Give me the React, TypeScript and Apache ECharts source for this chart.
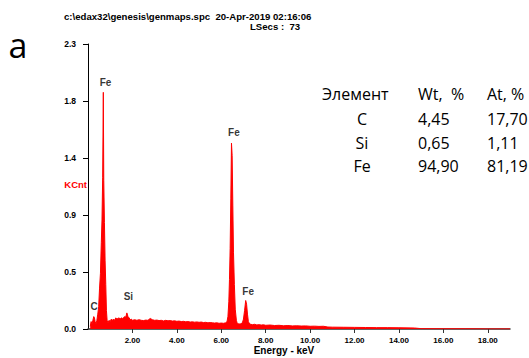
import React, { useEffect, useRef } from "react";
import * as echarts from "echarts";

const energies = [
  0.10, 0.14, 0.18, 0.22, 0.26, 0.29, 0.32, 0.36, 0.40, 0.44, 0.48, 0.52, 0.56, 0.60, 0.63, 0.66, 0.69, 0.71, 0.74, 0.77,
  0.80, 0.83, 0.86, 0.90, 0.95, 1.00, 1.05, 1.10, 1.15, 1.20, 1.25, 1.30, 1.35, 1.40, 1.45, 1.50, 1.55, 1.60, 1.65, 1.70,
  1.75, 1.80, 1.85, 1.90, 1.95, 2.00, 2.10, 2.20, 2.30, 2.40, 2.50, 2.60, 2.70, 2.80, 2.90, 3.00, 3.10, 3.20, 3.30, 3.40,
  3.50, 3.60, 3.70, 3.80, 3.90, 4.00, 4.10, 4.20, 4.30, 4.40, 4.50, 4.60, 4.70, 4.80, 4.90, 5.00, 5.10, 5.20, 5.30, 5.40,
  5.50, 5.60, 5.70, 5.80, 5.90, 6.00, 6.10, 6.20, 6.26, 6.30, 6.34, 6.37, 6.40, 6.43, 6.46, 6.49, 6.52, 6.55, 6.59, 6.63,
  6.68, 6.72, 6.80, 6.88, 6.95, 7.00, 7.05, 7.10, 7.14, 7.18, 7.22, 7.28, 7.40, 7.50, 7.60, 7.70, 7.80, 7.90, 8.00, 8.20,
  8.40, 8.60, 8.80, 9.00, 9.20, 9.40, 9.60, 9.80, 10.00, 10.20, 10.40, 10.60, 10.80, 11.00, 11.50, 12.00, 12.50, 13.00, 13.50, 14.00,
  14.50, 14.70, 15.00, 16.00, 17.00, 18.00, 19.00,
];
const counts = [
  0.02, 0.06, 0.04, 0.07, 0.10, 0.09, 0.06, 0.04, 0.07, 0.12, 0.18, 0.33, 0.45, 0.70, 0.88, 1.22, 1.91, 1.20, 0.86, 0.55,
  0.36, 0.15, 0.07, 0.05, 0.07, 0.06, 0.08, 0.07, 0.08, 0.07, 0.09, 0.08, 0.085, 0.09, 0.08, 0.09, 0.085, 0.09, 0.10, 0.095,
  0.13, 0.10, 0.09, 0.075, 0.08, 0.07, 0.075, 0.07, 0.075, 0.07, 0.068, 0.072, 0.07, 0.085, 0.075, 0.07, 0.072, 0.068, 0.07, 0.065,
  0.07, 0.066, 0.068, 0.064, 0.066, 0.062, 0.064, 0.06, 0.062, 0.058, 0.06, 0.056, 0.058, 0.055, 0.057, 0.054, 0.056, 0.052, 0.054, 0.05,
  0.052, 0.05, 0.048, 0.05, 0.046, 0.048, 0.046, 0.05, 0.06, 0.10, 0.22, 0.40, 0.65, 1.05, 1.50, 1.40, 1.00, 0.62, 0.36, 0.16,
  0.07, 0.045, 0.04, 0.042, 0.05, 0.08, 0.15, 0.23, 0.20, 0.12, 0.06, 0.04, 0.035, 0.038, 0.033, 0.035, 0.032, 0.034, 0.03, 0.032,
  0.028, 0.03, 0.026, 0.028, 0.025, 0.026, 0.024, 0.025, 0.022, 0.023, 0.021, 0.022, 0.016, 0.015, 0.014, 0.013, 0.012, 0.011, 0.011, 0.010,
  0.009, 0.008, 0.003, 0.002, 0.002, 0.001, 0.001,
];

const peakNames = ["C", "Fe", "Si", "Fe", "Fe"];
const peakLabelEnergies = [0.27, 0.79, 1.82, 6.57, 7.21];
const peakLabelCounts = [0.18, 1.99, 0.266, 1.585, 0.30];

const xTickValues = [2, 4, 6, 8, 10, 12, 14, 16, 18];
const xTickLabels = ["2.00", "4.00", "6.00", "8.00", "10.00", "12.00", "14.00", "16.00", "18.00"];
const yTickValues = [0, 0.46, 0.92, 1.38, 1.84, 2.3];
const yTickLabels = ["0.0", "0.5", "0.9", "1.4", "1.8", "2.3"];

const titleLine1 = "c:\\edax32\\genesis\\genmaps.spc  20-Apr-2019 02:16:06";
const titleLine2 = "LSecs :  73";
const xAxisTitle = "Energy - keV";
const yAxisTitle = "KCnt";
const panelLetter = "a";

const tableHeader = ["Элемент", "Wt,  %", "At, %"];
const tableElements = ["C", "Si", "Fe"];
const tableWt = ["4,45", "0,65", "94,90"];
const tableAt = ["17,70", "1,11", "81,19"];

const ARIAL = "'Liberation Sans', Arial, sans-serif";
const TABLE_FONT = "'Open Sans', sans-serif";

export default function App() {
  const ref = useRef<HTMLDivElement>(null);
  useEffect(() => {
    if (!ref.current) return;
    const chart = echarts.init(ref.current, null, { renderer: "svg" });
    const spectrum = energies.map((e, i) => [e, counts[i]]);
    const peakLabels = peakNames.map((n, i) => [peakLabelEnergies[i], peakLabelCounts[i], n]);

    const tf = `16px ${TABLE_FONT}`;
    const headerY = 94;
    const rowY = [119, 143, 166];
    const tableGraphics: any[] = [
      { type: "text", x: 322, y: headerY, style: { text: tableHeader[0], font: tf, fill: "#000", verticalAlign: "middle" } },
      { type: "text", x: 418, y: headerY, style: { text: tableHeader[1], font: tf, fill: "#000", verticalAlign: "middle" } },
      { type: "text", x: 487, y: headerY, style: { text: tableHeader[2], font: tf, fill: "#000", verticalAlign: "middle" } },
    ];
    tableElements.forEach((el, i) => {
      tableGraphics.push({
        type: "text", x: 362, y: rowY[i],
        style: { text: el, font: tf, fill: "#000", align: "center", verticalAlign: "middle" },
      });
      tableGraphics.push({
        type: "text", x: 418, y: rowY[i],
        style: { text: tableWt[i], font: tf, fill: "#000", align: "left", verticalAlign: "middle" },
      });
      tableGraphics.push({
        type: "text", x: 487, y: rowY[i],
        style: { text: tableAt[i], font: tf, fill: "#000", align: "left", verticalAlign: "middle" },
      });
    });

    chart.setOption({
      animation: false,
      backgroundColor: "#fff",
      grid: { left: 88, right: 19, top: 44, bottom: 29, containLabel: false },
      xAxis: {
        type: "value",
        min: 0,
        max: 19,
        axisLine: { show: true, lineStyle: { color: "#333", width: 1.5 } },
        axisTick: { show: true, customValues: xTickValues, length: 4, lineStyle: { color: "#333" } },
        axisLabel: {
          customValues: xTickValues,
          formatter: (v: number) => {
            const i = xTickValues.findIndex((t) => Math.abs(t - v) < 1e-6);
            return i >= 0 ? xTickLabels[i] : "";
          },
          fontFamily: ARIAL, fontWeight: "bold", fontSize: 8, color: "#000", margin: 7,
        },
        splitLine: { show: false },
      },
      yAxis: {
        type: "value",
        min: 0,
        max: 2.3,
        axisLine: { show: true, lineStyle: { color: "#000", width: 1 } },
        axisTick: { show: true, customValues: yTickValues, length: 5, lineStyle: { color: "#000" } },
        axisLabel: {
          customValues: yTickValues,
          formatter: (v: number) => {
            const i = yTickValues.findIndex((t) => Math.abs(t - v) < 1e-6);
            return i >= 0 ? yTickLabels[i] : "";
          },
          fontFamily: ARIAL, fontWeight: "bold", fontSize: 8.5, color: "#000", margin: 12,
        },
        splitLine: { show: false },
      },
      series: [
        {
          type: "line",
          data: spectrum,
          showSymbol: false,
          symbol: "none",
          lineStyle: { color: "#ff0000", width: 1 },
          areaStyle: { color: "#ff0000", opacity: 1 },
          z: 2,
        },
        {
          type: "scatter",
          data: peakLabels,
          symbolSize: 0,
          label: {
            show: true,
            position: "inside",
            formatter: (p: any) => p.data[2],
            fontFamily: ARIAL, fontWeight: "bold", fontSize: 10, color: "#000",
          },
          z: 3,
        },
      ],
      graphic: [
        { type: "text", x: 64, y: 16, style: { text: titleLine1, font: `bold 9.6px ${ARIAL}`, fill: "#000", verticalAlign: "middle" } },
        { type: "text", x: 250, y: 26, style: { text: titleLine2, font: `bold 9.6px ${ARIAL}`, fill: "#000", verticalAlign: "middle" } },
        { type: "text", x: 87, y: 184, style: { text: yAxisTitle, font: `bold 9.5px ${ARIAL}`, fill: "#ff0000", align: "right", verticalAlign: "middle" } },
        { type: "text", x: 284, y: 350, style: { text: xAxisTitle, font: `bold 10px ${ARIAL}`, fill: "#000", align: "center", verticalAlign: "middle" } },
        { type: "text", x: 18, y: 45, style: { text: panelLetter, font: `34px ${TABLE_FONT}`, fill: "#000", align: "center", verticalAlign: "middle" } },
        ...tableGraphics,
      ],
    });
    return () => chart.dispose();
  }, []);
  return (
    <div
      ref={ref}
      style={{ position: "fixed", left: 0, top: 0, width: 529, height: 358, background: "#fff" }}
    />
  );
}
